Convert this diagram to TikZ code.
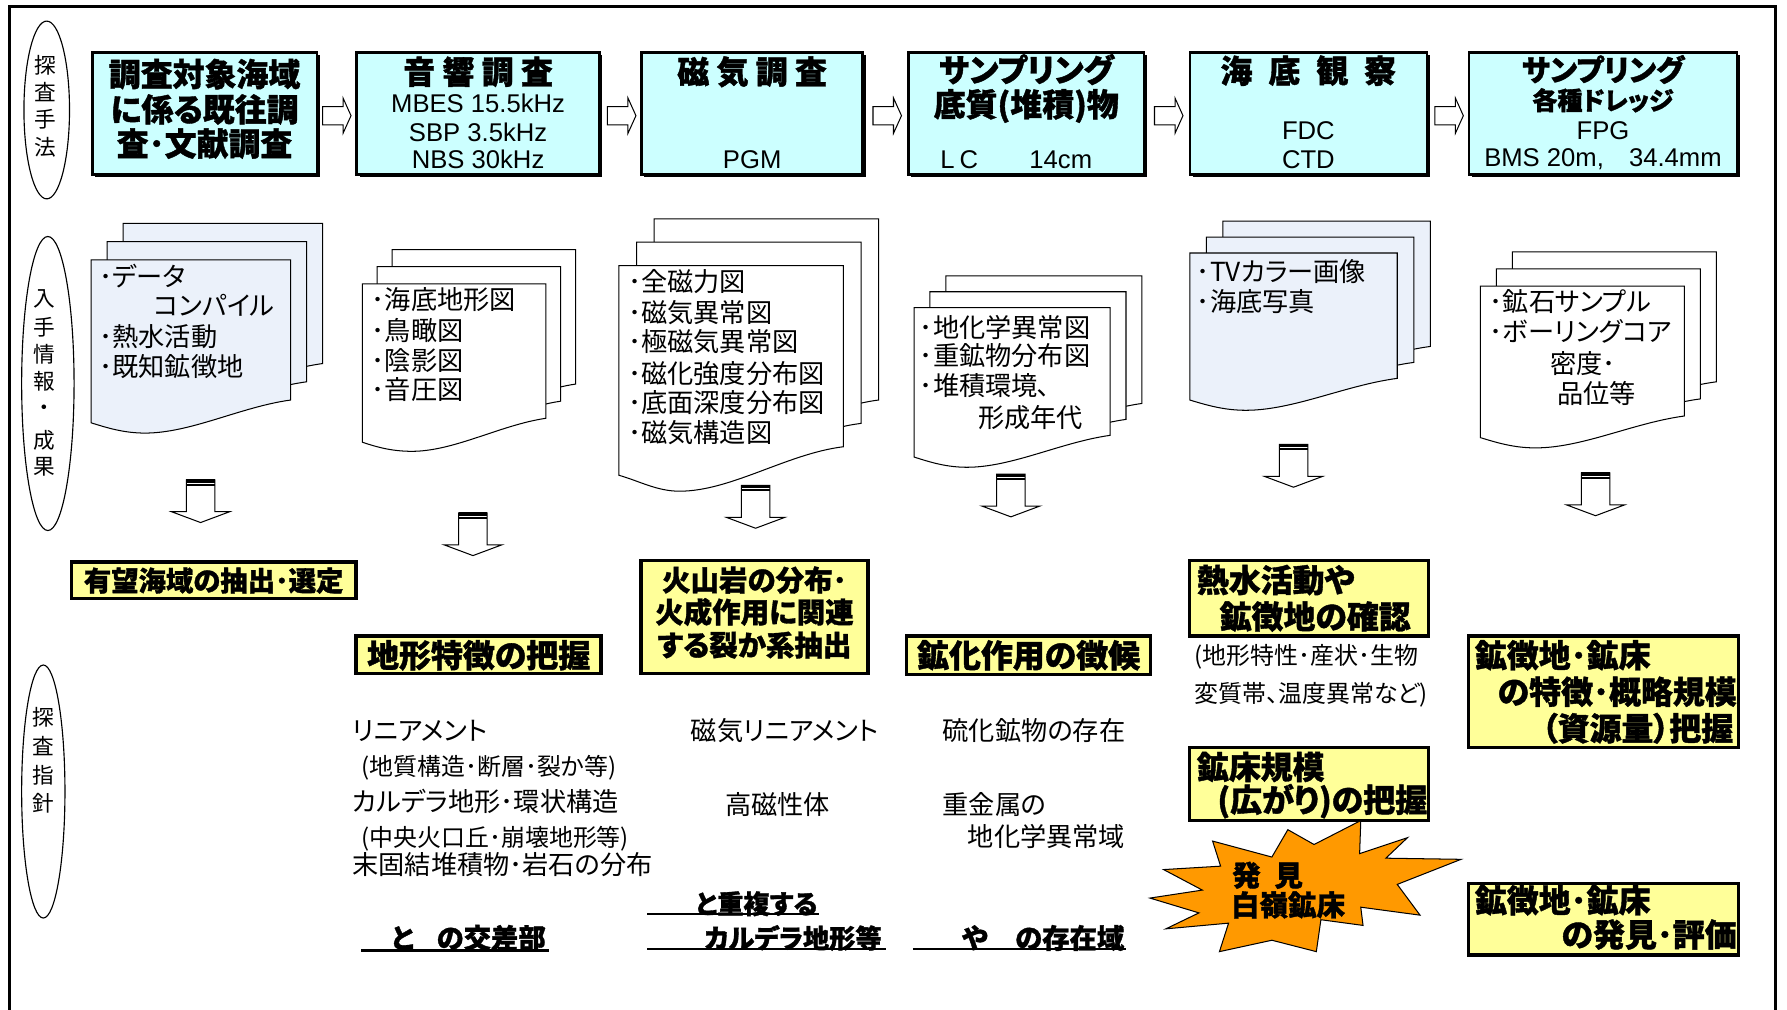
\documentclass[tikz,border=0pt]{standalone}
\usepackage{fontspec}
\setmainfont{Liberation Sans}
\newfontfamily\jp{Noto Sans CJK JP}[RawFeature=+palt, BoldFeatures={FakeBold=1.2}]
\usetikzlibrary{shadows,shapes.geometric}
\definecolor{cyanbox}{RGB}{204,255,255}
\definecolor{yelbox}{RGB}{255,255,153}
\definecolor{docblue}{RGB}{235,241,250}
\definecolor{starorange}{RGB}{255,153,0}
\tikzset{
  cbox/.style={draw=black, line width=2.2pt, fill=cyanbox, inner sep=0pt,
    drop shadow={shadow xshift=2.5pt, shadow yshift=-2.5pt, fill=black, opacity=1}},
  ybox/.style={draw=black, line width=3pt, fill=yelbox, inner sep=0pt,
    drop shadow={shadow xshift=1.5pt, shadow yshift=-1.5pt, fill=black, opacity=1}},
  ovalbox/.style={draw=black, line width=1pt, fill=white, ellipse, inner sep=0pt},
  docline/.style={draw=black, line width=0.9pt},
  hollow/.style={draw=black, line width=0.9pt, fill=white},
  jr/.style={font=\jp\fontsize{23}{26}\selectfont, inner sep=0pt},
  jrs/.style={font=\jp\fontsize{21}{24}\selectfont, inner sep=0pt},
  jb/.style={font=\jp\bfseries\fontsize{#1}{#1}\selectfont, inner sep=0pt},
  lat/.style={font=\fontsize{22.5}{25}\selectfont, inner sep=0pt},
  vt/.style={font=\jp\fontsize{19}{22}\selectfont, inner sep=0pt},
  uline/.style={draw=black, line width=2pt},
}
\newcommand\docsheet[7]{%
  \filldraw[docline, fill=#7] ({#1},{#2}) -- ({#1+#3},{#2}) -- ({#1+#3},{#6})
    .. controls ({#1+0.75*#3},{#6+6}) and ({#1+0.5*#3},{#5}) .. ({#1+0.27*#3},{#5})
    .. controls ({#1+0.17*#3},{#5}) and ({#1+0.09*#3},{#4+5}) .. ({#1},{#4}) -- cycle;}
\newcommand\docstack[9]{%
  \docsheet{#1+2*#7}{#2-2*#8}{#3}{#4-2*#8}{#5-2*#8}{#6-2*#8}{#9}
  \docsheet{#1+#7}{#2-#8}{#3}{#4-#8}{#5-#8}{#6-#8}{#9}
  \docsheet{#1}{#2}{#3}{#4}{#5}{#6}{#9}}
\newcommand\darrowat[2]{%
  \filldraw[hollow] ({#1-12.5},{#2}) -- ({#1+12.5},{#2}) -- ({#1+12.5},{#2+28})
    -- ({#1+25.5},{#2+28}) -- ({#1},{#2+37.5}) -- ({#1-25.5},{#2+28})
    -- ({#1-12.5},{#2+28}) -- cycle;
  \fill ({#1-12.5},{#2-0.5}) rectangle ({#1+12.5},{#2+2.5});
  \fill ({#1-12.5},{#2+3.4}) rectangle ({#1+12.5},{#2+5});}
\newcommand\rarrowat[2]{%
  \filldraw[hollow] ({#1},{#2-8}) -- ({#1+18},{#2-8}) -- ({#1+18},{#2-15.5})
    -- ({#1+25},{#2}) -- ({#1+18},{#2+15.5}) -- ({#1+18},{#2+8}) -- ({#1},{#2+8}) -- cycle;}
\begin{document}
\begin{tikzpicture}[x=1pt,y=-1pt]
\useasboundingbox (0,0) rectangle (1568,886);
\fill[white] (0,0) rectangle (1568,886);
% frame
\draw[line width=2.5pt] (8,892) -- (8,6) -- (1558,6) -- (1558,892);

% side ovals
\node[ovalbox, minimum width=40pt, minimum height=156pt] (o1) at (41,96.5) {};
\node[vt] (o1a) at (40,57) {探};
\node[vt] (o1b) at (40,81) {査};
\node[vt] (o1c) at (40,105) {手};
\node[vt] (o1d) at (40,129) {法};
\node[ovalbox, minimum width=46pt, minimum height=258pt] (o2) at (42,336.5) {};
\node[vt] (o2a) at (39,262) {入};
\node[vt] (o2b) at (39,287) {手};
\node[vt] (o2c) at (39,311) {情};
\node[vt] (o2d) at (39,335) {報};
\node[vt] (o2e) at (39,360) {・};
\node[vt] (o2f) at (39,386) {成};
\node[vt] (o2g) at (39,410) {果};
\node[ovalbox, minimum width=38pt, minimum height=222pt] (o3) at (38,694.5) {};
\node[vt] (o3a) at (38,629) {探};
\node[vt] (o3b) at (38,655) {査};
\node[vt] (o3c) at (38,680) {指};
\node[vt] (o3d) at (38,705) {針};

% top boxes
\node[cbox, minimum width=197pt, minimum height=107pt] (b1) at (179.5,99.5) {};
\node[cbox, minimum width=213pt, minimum height=107pt] (b2) at (419.5,99.5) {};
\node[cbox, minimum width=194pt, minimum height=107pt] (b3) at (660,99.5) {};
\node[cbox, minimum width=207pt, minimum height=107pt] (b4) at (900.5,99.5) {};
\node[cbox, minimum width=208pt, minimum height=107pt] (b5) at (1148,99.5) {};
\node[cbox, minimum width=235pt, minimum height=107pt] (b6) at (1406.5,99.5) {};

\node[jb=28] (t1a) at (179.5,65) {調査対象海域};
\node[jb=28] (t1b) at (179.5,96) {に係る既往調};
\node[jb=28] (t1c) at (179.5,126) {査･文献調査};
\node[jb=28] (t2a) at (419.5,63) {音 響 調 査};
\node[lat] (t2b) at (419.5,91) {MBES 15.5kHz};
\node[lat] (t2c) at (419.5,116) {SBP 3.5kHz};
\node[lat] (t2d) at (419.5,140) {NBS 30kHz};
\node[jb=28] (t3a) at (660,63) {磁 気 調 査};
\node[lat] (t3b) at (660,140) {PGM};
\node[jb=28] (t4a) at (900.5,61) {サンプリング};
\node[jb=28] (t4b) at (900.5,93) {底質(堆積)物};
\node[lat, anchor=west] (t4c) at (825,140) {L\hspace{4.3pt}C\hspace{45pt}14cm};
\node[jb=28] (t5a) at (1148,62) {海\hspace{14pt}底\hspace{14pt}観\hspace{14pt}察};
\node[lat] (t5b) at (1148,115) {FDC};
\node[lat] (t5c) at (1148,140) {CTD};
\node[jb=26] (t6a) at (1406.5,61) {サンプリング};
\node[jb=22] (t6b) at (1406.5,88) {各種ドレッジ};
\node[lat] (t6c) at (1406.5,115) {FPG};
\node[lat] (t6d) at (1406.5,140) {BMS 20m,\hspace{22pt}34.4mm};

% right hollow arrows
\rarrowat{283}{101.5}
\rarrowat{533}{101.5}
\rarrowat{766}{101.5}
\rarrowat{1013}{101.5}
\rarrowat{1259}{101.5}

% document stacks
\docstack{80}{228}{175}{371}{380}{351}{14}{16}{docblue}
\docstack{318}{249}{161}{388}{396}{367}{13}{15}{white}
\docstack{543}{233}{197}{417}{431}{392}{15.5}{20.5}{white}
\docstack{802}{270}{172}{401}{410}{382}{14}{14}{white}
\docstack{1044}{222}{182}{351}{360}{332}{14.5}{14}{docblue}
\docstack{1299}{251}{179}{384}{393}{365}{14}{15}{white}

\node[jr, anchor=west] (d1a) at (87,242) {･データ};
\node[jr, anchor=west] (d1b) at (135,268) {コンパイル};
\node[jr, anchor=west] (d1c) at (87,295) {･熱水活動};
\node[jr, anchor=west] (d1d) at (87,322) {･既知鉱徴地};

\node[jr, anchor=west] (d2a) at (326,263) {･海底地形図};
\node[jr, anchor=west] (d2b) at (326,290) {･鳥瞰図};
\node[jr, anchor=west] (d2c) at (326,316) {･陰影図};
\node[jr, anchor=west] (d2d) at (326,342) {･音圧図};

\node[jr, anchor=west] (d3a) at (551,247) {･全磁力図};
\node[jr, anchor=west] (d3b) at (551,274) {･磁気異常図};
\node[jr, anchor=west] (d3c) at (551,300) {･極磁気異常図};
\node[jr, anchor=west] (d3d) at (551,328) {･磁化強度分布図};
\node[jr, anchor=west] (d3e) at (551,353) {･底面深度分布図};
\node[jr, anchor=west] (d3f) at (551,380) {･磁気構造図};

\node[jr, anchor=west] (d4a) at (807,287) {･地化学異常図};
\node[jr, anchor=west] (d4b) at (807,312) {･重鉱物分布図};
\node[jr, anchor=west] (d4c) at (807,338) {･堆積環境､};
\node[jr, anchor=west] (d4d) at (858,366) {形成年代};

\node[jr, anchor=west] (d5a) at (1050,238) {･TVカラー画像};
\node[jr, anchor=west] (d5b) at (1050,265) {･海底写真};

\node[jr, anchor=west] (d6a) at (1307,265) {･鉱石サンプル};
\node[jr, anchor=west] (d6b) at (1307,291) {･ボーリングコア};
\node[jr, anchor=west] (d6c) at (1360,319) {密度･};
\node[jr, anchor=west] (d6d) at (1366,345) {品位等};

% down arrows
\darrowat{176}{421}
\darrowat{415}{450}
\darrowat{663}{426}
\darrowat{887}{416}
\darrowat{1135}{390}
\darrowat{1400}{415}

% yellow boxes
\node[ybox, minimum width=250pt, minimum height=32pt] (y1) at (187.5,509) {};
\node[jb=24] (y1t) at (187.5,509.5) {有望海域の抽出･選定};
\node[ybox, minimum width=215pt, minimum height=33pt] (y2) at (420,574.5) {};
\node[jb=28] (y2t) at (420,575) {地形特徴の把握};
\node[ybox, minimum width=199pt, minimum height=99pt] (y3) at (662,541.5) {};
\node[jb=25] (y3a) at (662,509) {火山岩の分布･};
\node[jb=25] (y3b) at (662,537) {火成作用に関連};
\node[jb=25] (y3c) at (662,566) {する裂か系抽出};
\node[ybox, minimum width=214pt, minimum height=34pt] (y4) at (902.5,575) {};
\node[jb=28] (y4t) at (902.5,575) {鉱化作用の徴候};
\node[ybox, minimum width=210pt, minimum height=66pt] (y5) at (1148.5,525) {};
\node[jb=28, anchor=west] (y5a) at (1050,509) {熱水活動や};
\node[jb=28, anchor=west] (y5b) at (1070,541) {鉱徴地の確認};
\node[ybox, minimum width=210pt, minimum height=64pt] (y6) at (1148.5,688) {};
\node[jb=28, anchor=west] (y6a) at (1050,673) {鉱床規模};
\node[jb=28, anchor=west] (y6b) at (1068,703) {(広がり)の把握};
\node[ybox, minimum width=237pt, minimum height=98pt] (y7) at (1407,607) {};
\node[jb=28, anchor=west] (y7a) at (1294,575) {鉱徴地･鉱床};
\node[jb=28, anchor=east] (y7b) at (1524,607) {の特徴･概略規模};
\node[jb=28, anchor=east] (y7c) at (1521,639) {（資源量）把握};
\node[ybox, minimum width=237pt, minimum height=63pt] (y8) at (1407,806.5) {};
\node[jb=28, anchor=west] (y8a) at (1294,790) {鉱徴地･鉱床};
\node[jb=28, anchor=east] (y8b) at (1524,820) {の発見･評価};

% guideline texts
\node[jr, anchor=west] (g1) at (309,641) {リニアメント};
\node[jrs, anchor=west] (g2) at (317,674) {(地質構造･断層･裂か等)};
\node[jr, anchor=west] (g3) at (309,703) {カルデラ地形･環状構造};
\node[jrs, anchor=west] (g4) at (317,736) {(中央火口丘･崩壊地形等)};
\node[jr, anchor=west] (g5) at (309,759) {末固結堆積物･岩石の分布};
\node[jr, anchor=west] (g6) at (606,641) {磁気リニアメント};
\node[jr, anchor=west] (g7) at (636,706) {高磁性体};
\node[jr, anchor=west] (g8) at (827,641) {硫化鉱物の存在};
\node[jr, anchor=west] (g9) at (827,706) {重金属の};
\node[jr, anchor=west] (g10) at (849,734) {地化学異常域};
\node[jrs, anchor=west] (g11) at (1048,576) {(地形特性･産状･生物};
\node[jrs, anchor=west] (g12) at (1048,610) {変質帯、温度異常など)};

% underlined bold texts
\node[jb=24, anchor=west] (u1) at (343,823) {と\hspace{20pt}の交差部};
\draw[uline] (317,834) -- (482,834);
\node[jb=23, anchor=west] (u2) at (610,793) {と重複する};
\draw[uline] (568,802) -- (719,802);
\node[jb=23, anchor=west] (u3) at (618,823) {カルデラ地形等};
\draw[uline] (568,833) -- (777,833);
\node[jb=24, anchor=west] (u4) at (844,823) {や\hspace{24pt}の存在域};
\draw[uline] (801,833) -- (988,833);

% starburst
\filldraw[fill=starorange, draw=black, line width=0.9pt]
 (1194,720) -- (1193,749) -- (1235,735) -- (1216,753) -- (1282,754) -- (1226,776)
 -- (1246,803) -- (1194,796) -- (1196,812) -- (1159,807) -- (1155,835) -- (1116,825)
 -- (1070,835) -- (1078,810) -- (1023,815) -- (1052,801) -- (1009,788) -- (1055,781)
 -- (1021,763) -- (1071,760) -- (1064,738) -- (1116,752) -- (1130,728) -- (1153,741) -- cycle;
\node[jb=25, anchor=west] (s1) at (1081,768) {発\hspace{12pt}見};
\node[jb=25, anchor=west] (s2) at (1080,794) {白嶺鉱床};
\end{tikzpicture}
\end{document}
